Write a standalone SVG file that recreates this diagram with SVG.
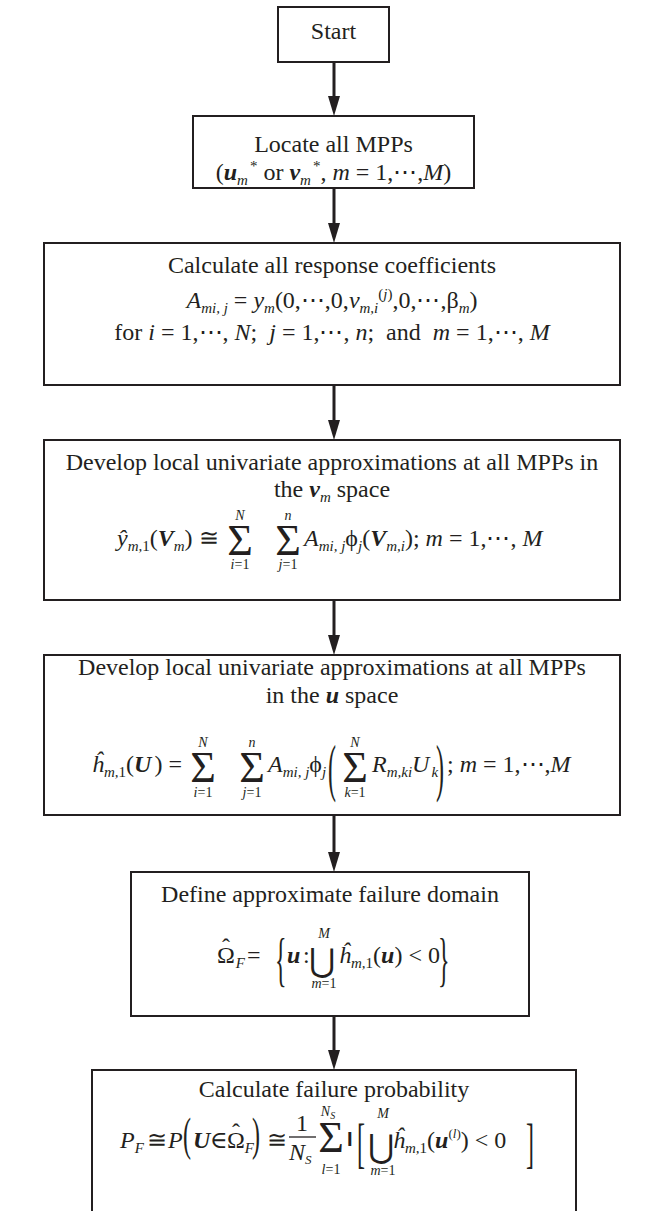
<svg xmlns="http://www.w3.org/2000/svg" width="659" height="1211" viewBox="0 0 659 1211">
<defs>
<style>
.box{fill:#fff;stroke:#231f20;stroke-width:2}
.t{font-family:"Liberation Serif","DejaVu Serif",serif;font-size:24px;fill:#231f20}
.i{font-style:italic}
.bi{font-style:italic;font-weight:bold}
.b{font-weight:bold}
.s{font-size:15px}
.lim{font-family:"Liberation Serif","DejaVu Serif",serif;font-size:14px;fill:#231f20}
.op{font-family:"Liberation Serif","DejaVu Serif",serif;font-size:44px;fill:#231f20}
.un{font-family:"DejaVu Serif","Liberation Serif",serif;font-size:32px;fill:#231f20}
.conn{stroke:#231f20;stroke-width:3;fill:none}
</style>
<marker id="ah" markerUnits="userSpaceOnUse" markerWidth="20" markerHeight="12" refX="10" refY="6" orient="auto">
<path d="M0,0 L20,6 L0,12 z" fill="#231f20"/>
</marker>
</defs>

<g id="connectors">
<line class="conn" x1="334" y1="62" x2="334" y2="106" marker-end="url(#ah)"/>
<line class="conn" x1="334" y1="188" x2="334" y2="233" marker-end="url(#ah)"/>
<line class="conn" x1="334" y1="385" x2="334" y2="430" marker-end="url(#ah)"/>
<line class="conn" x1="334" y1="600" x2="334" y2="645" marker-end="url(#ah)"/>
<line class="conn" x1="334" y1="815" x2="334" y2="862" marker-end="url(#ah)"/>
<line class="conn" x1="334" y1="1016" x2="334" y2="1060" marker-end="url(#ah)"/>
</g>

<g id="start">
<rect class="box" x="278" y="7" width="111" height="55"/>
<text class="t" x="333.5" y="39" text-anchor="middle">Start</text>
</g>

<g id="locate">
<rect class="box" x="193" y="116" width="281" height="72"/>
<text class="t" x="333.5" y="152" text-anchor="middle">Locate all MPPs</text>
<text class="t" x="333.5" y="180" text-anchor="middle">(<tspan class="bi">u</tspan><tspan class="i s" dy="5">m</tspan><tspan class="s" dy="-14" dx="2">*</tspan><tspan dy="9"> or </tspan><tspan class="bi">v</tspan><tspan class="i s" dy="5">m</tspan><tspan class="s" dy="-14" dx="2">*</tspan><tspan dy="9">, </tspan><tspan class="i">m</tspan> = 1,⋯,<tspan class="i">M</tspan>)</text>
</g>

<g id="coefficients">
<rect class="box" x="44" y="243" width="576" height="142"/>
<text class="t" x="332" y="273" text-anchor="middle">Calculate all response coefficients</text>
<text class="t" x="332" y="308" text-anchor="middle"><tspan class="i">A</tspan><tspan class="i s" dy="5">mi, j</tspan><tspan dy="-5"> = </tspan><tspan class="i">y</tspan><tspan class="i s" dy="5">m</tspan><tspan dy="-5">(0,⋯,0,</tspan><tspan class="i">v</tspan><tspan class="i s" dy="5">m,i</tspan><tspan class="s" dy="-14">(</tspan><tspan class="i s">j</tspan><tspan class="s">)</tspan><tspan dy="9">,0,⋯,β</tspan><tspan class="i s" dy="5">m</tspan><tspan dy="-5">)</tspan></text>
<text class="t" x="332" y="340" text-anchor="middle" xml:space="preserve">for <tspan class="i">i</tspan> = 1,⋯, <tspan class="i">N</tspan>;  <tspan class="i">j</tspan> = 1,⋯, <tspan class="i">n</tspan>;  and  <tspan class="i">m</tspan> = 1,⋯, <tspan class="i">M</tspan></text>
</g>

<g id="approx-v">
<rect class="box" x="44" y="440" width="576" height="160"/>
<text class="t" x="332" y="470" text-anchor="middle">Develop local univariate approximations at all MPPs in</text>
<text class="t" x="332" y="497" text-anchor="middle">the <tspan class="bi">v</tspan><tspan class="i s" dy="5">m</tspan><tspan dy="-5"> space</tspan></text>
<text class="t" x="117" y="546"><tspan class="i">ŷ</tspan><tspan class="i s" dy="5">m,</tspan><tspan class="s">1</tspan><tspan dy="-5">(</tspan><tspan class="bi">V</tspan><tspan class="i s" dy="5">m</tspan><tspan dy="-5">) ≅</tspan></text>
<text class="op" x="240" y="555" text-anchor="middle">Σ</text>
<text class="lim i" x="240" y="520" text-anchor="middle">N</text>
<text class="lim" x="240" y="569" text-anchor="middle"><tspan class="i">i</tspan>=1</text>
<text class="op" x="288" y="555" text-anchor="middle">Σ</text>
<text class="lim i" x="288" y="520" text-anchor="middle">n</text>
<text class="lim" x="288" y="569" text-anchor="middle"><tspan class="i">j</tspan>=1</text>
<text class="t" x="304" y="546"><tspan class="i">A</tspan><tspan class="i s" dy="5">mi, j</tspan><tspan dy="-5">ϕ</tspan><tspan class="i s" dy="5">j</tspan><tspan dy="-5">(</tspan><tspan class="bi">V</tspan><tspan class="i s" dy="5">m,i</tspan><tspan dy="-5">); </tspan><tspan class="i">m</tspan> = 1,⋯, <tspan class="i">M</tspan></text>
</g>

<g id="approx-u">
<rect class="box" x="44" y="655" width="576" height="160"/>
<text class="t" x="332" y="675" text-anchor="middle">Develop local univariate approximations at all MPPs</text>
<text class="t" x="332" y="703" text-anchor="middle">in the <tspan class="bi">u</tspan> space</text>
<text class="t" x="92" y="772"><tspan class="i">ĥ</tspan><tspan class="i s" dy="5">m,</tspan><tspan class="s">1</tspan><tspan dy="-5">(</tspan><tspan class="bi">U</tspan><tspan dx="3">) =</tspan></text>
<text class="op" x="203" y="782" text-anchor="middle">Σ</text>
<text class="lim i" x="203" y="747" text-anchor="middle">N</text>
<text class="lim" x="203" y="797" text-anchor="middle"><tspan class="i">i</tspan>=1</text>
<text class="op" x="252" y="782" text-anchor="middle">Σ</text>
<text class="lim i" x="252" y="747" text-anchor="middle">n</text>
<text class="lim" x="252" y="797" text-anchor="middle"><tspan class="i">j</tspan>=1</text>
<text class="t" x="268" y="772"><tspan class="i">A</tspan><tspan class="i s" dy="5">mi, j</tspan><tspan dy="-5">ϕ</tspan><tspan class="i s" dy="5">j</tspan></text>
<text class="t" transform="translate(328,789) scale(1,2.6)">(</text>
<text class="op" x="355" y="782" text-anchor="middle">Σ</text>
<text class="lim i" x="355" y="747" text-anchor="middle">N</text>
<text class="lim" x="355" y="797" text-anchor="middle"><tspan class="i">k</tspan>=1</text>
<text class="t" x="372" y="772"><tspan class="i">R</tspan><tspan class="i s" dy="5">m,ki</tspan><tspan class="i" dy="-5">U</tspan><tspan class="i s" dy="5" dx="2">k</tspan></text>
<text class="t" transform="translate(436,789) scale(1,2.6)">)</text>
<text class="t" x="447" y="772">; <tspan class="i">m</tspan> = 1,⋯,<tspan class="i">M</tspan></text>
</g>

<g id="domain">
<rect class="box" x="131" y="872" width="398" height="144"/>
<text class="t" x="330" y="902" text-anchor="middle">Define approximate failure domain</text>
<text class="t" x="217" y="963">Ω<tspan class="i s" dy="5" dx="1">F</tspan><tspan dy="-5" x="247">=</tspan></text>
<text class="t" x="226" y="955" text-anchor="middle">ˆ</text>
<text class="t" transform="translate(275,979) scale(1,2.5)">{</text>
<text class="t" x="287" y="963"><tspan class="bi">u</tspan><tspan x="303">:</tspan></text>
<text class="un" x="322" y="971" text-anchor="middle">⋃</text>
<text class="lim i" x="324" y="938" text-anchor="middle">M</text>
<text class="lim" x="324" y="988" text-anchor="middle"><tspan class="i">m</tspan>=1</text>
<text class="t" x="339" y="963"><tspan class="i">ĥ</tspan><tspan class="i s" dy="5">m,</tspan><tspan class="s">1</tspan><tspan dy="-5">(</tspan><tspan class="bi">u</tspan><tspan>) &lt; 0</tspan></text>
<text class="t" transform="translate(438,979) scale(1,2.5)">}</text>
</g>

<g id="probability">
<path class="box" d="M92,1211 V1070 H576 V1211"/>
<text class="t" x="334" y="1097" text-anchor="middle">Calculate failure probability</text>
<text class="t" x="120" y="1148"><tspan class="i">P</tspan><tspan class="i s" dy="5">F</tspan><tspan dy="-5" x="147">≅</tspan><tspan class="i" x="168">P</tspan></text>
<text class="t" transform="translate(183,1150) scale(1,1.9)">(</text>
<text class="t" x="193" y="1148"><tspan class="bi">U</tspan><tspan x="210">∈</tspan><tspan x="227">Ω</tspan><tspan class="i s" dy="5">F</tspan></text>
<text class="t" x="236" y="1140" text-anchor="middle">ˆ</text>
<text class="t" transform="translate(252,1150) scale(1,1.9)">)</text>
<text class="t" x="267" y="1148">≅</text>
<text class="t" x="302" y="1131" text-anchor="middle">1</text>
<line x1="289" y1="1137" x2="316" y2="1137" stroke="#231f20" stroke-width="1.3"/>
<text class="t" x="289" y="1160"><tspan class="i">N</tspan><tspan class="i" font-size="13" dy="4">S</tspan></text>
<text class="op" x="331" y="1152" text-anchor="middle">Σ</text>
<text class="lim" x="328" y="1116" text-anchor="middle"><tspan class="i">N</tspan><tspan class="i" font-size="10" dy="3">S</tspan></text>
<text class="lim" x="331" y="1174" text-anchor="middle"><tspan class="i">l</tspan>=1</text>
<text x="347" y="1146" font-family="Liberation Sans, sans-serif" font-weight="bold" font-size="20" fill="#231f20">I</text>
<text class="t" transform="translate(357,1162) scale(1,2.3)">[</text>
<text class="un" x="381" y="1157" text-anchor="middle">⋃</text>
<text class="lim i" x="383" y="1118" text-anchor="middle">M</text>
<text class="lim" x="383" y="1175" text-anchor="middle"><tspan class="i">m</tspan>=1</text>
<text class="t" x="393" y="1148"><tspan class="i">ĥ</tspan><tspan class="i s" dy="5">m,</tspan><tspan class="s">1</tspan><tspan dy="-5">(</tspan><tspan class="bi">u</tspan><tspan font-size="13" dy="-10">(</tspan><tspan class="i" font-size="13">l</tspan><tspan font-size="13">)</tspan><tspan dy="10">) &lt; 0</tspan></text>
<text class="t" transform="translate(526,1162) scale(1,2.3)">]</text>
</g>
</svg>
